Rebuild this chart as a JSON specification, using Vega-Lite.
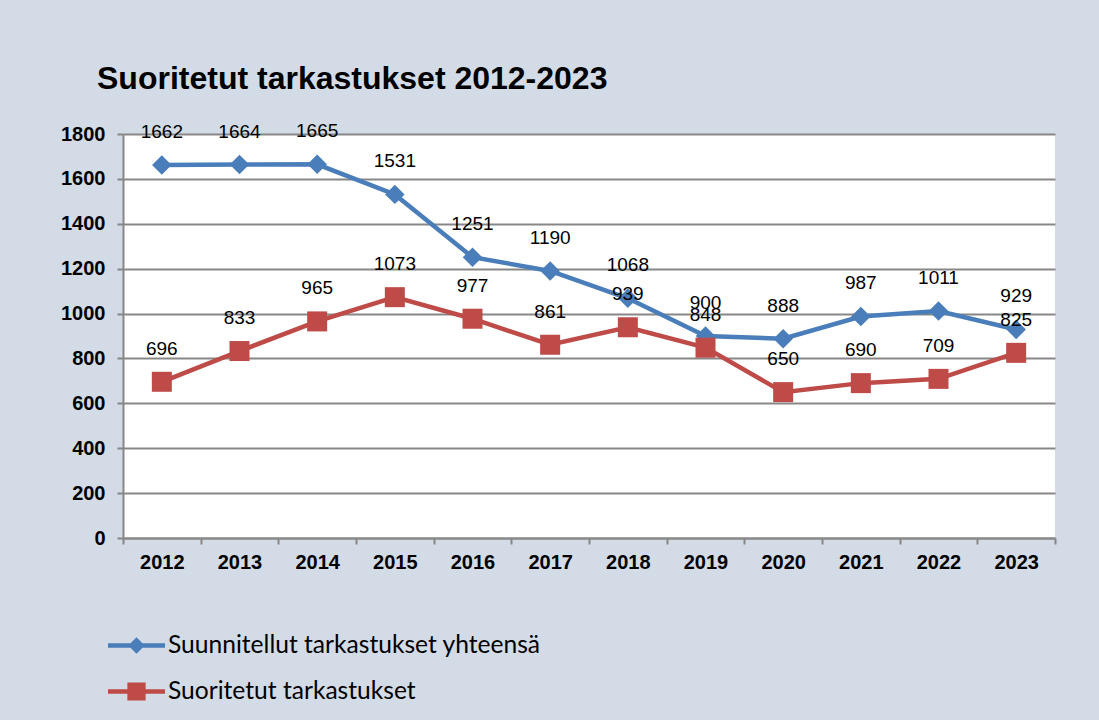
{
  "$schema": "https://vega.github.io/schema/vega-lite/v6.json",
  "autosize": "none",
  "width": 932,
  "height": 404,
  "padding": {"left": 123, "top": 134, "right": 44, "bottom": 182},
  "background": "#d3dbe6",
  "title": {
    "text": "Suoritetut tarkastukset 2012-2023",
    "anchor": "start",
    "frame": "group",
    "dx": -26,
    "offset": 1,
    "baseline": "alphabetic",
    "font": "Liberation Sans",
    "fontSize": 32,
    "fontWeight": "bold",
    "color": "#000000"
  },
  "config": {
    "view": {"fill": "#ffffff", "stroke": null},
    "axis": {
      "labelFont": "Liberation Sans",
      "labelFontSize": 20,
      "labelFontWeight": "bold",
      "labelColor": "#000000",
      "domainColor": "#878787",
      "domainWidth": 2,
      "tickColor": "#878787",
      "tickWidth": 2,
      "tickSize": 6,
      "gridColor": "#878787",
      "gridWidth": 2,
      "title": null
    },
    "legend": {
      "symbolType": "M-1,-0.08H1V0.08H-1Z M0,-0.29L0.29,0L0,0.29L-0.29,0Z"
    }
  },
  "data": {
    "values": [
      {"year": "2012", "series": "Suunnitellut tarkastukset yhteensä", "value": 1662},
      {"year": "2013", "series": "Suunnitellut tarkastukset yhteensä", "value": 1664},
      {"year": "2014", "series": "Suunnitellut tarkastukset yhteensä", "value": 1665},
      {"year": "2015", "series": "Suunnitellut tarkastukset yhteensä", "value": 1531},
      {"year": "2016", "series": "Suunnitellut tarkastukset yhteensä", "value": 1251},
      {"year": "2017", "series": "Suunnitellut tarkastukset yhteensä", "value": 1190},
      {"year": "2018", "series": "Suunnitellut tarkastukset yhteensä", "value": 1068},
      {"year": "2019", "series": "Suunnitellut tarkastukset yhteensä", "value": 900},
      {"year": "2020", "series": "Suunnitellut tarkastukset yhteensä", "value": 888},
      {"year": "2021", "series": "Suunnitellut tarkastukset yhteensä", "value": 987},
      {"year": "2022", "series": "Suunnitellut tarkastukset yhteensä", "value": 1011},
      {"year": "2023", "series": "Suunnitellut tarkastukset yhteensä", "value": 929},
      {"year": "2012", "series": "Suoritetut tarkastukset", "value": 696},
      {"year": "2013", "series": "Suoritetut tarkastukset", "value": 833},
      {"year": "2014", "series": "Suoritetut tarkastukset", "value": 965},
      {"year": "2015", "series": "Suoritetut tarkastukset", "value": 1073},
      {"year": "2016", "series": "Suoritetut tarkastukset", "value": 977},
      {"year": "2017", "series": "Suoritetut tarkastukset", "value": 861},
      {"year": "2018", "series": "Suoritetut tarkastukset", "value": 939},
      {"year": "2019", "series": "Suoritetut tarkastukset", "value": 848},
      {"year": "2020", "series": "Suoritetut tarkastukset", "value": 650},
      {"year": "2021", "series": "Suoritetut tarkastukset", "value": 690},
      {"year": "2022", "series": "Suoritetut tarkastukset", "value": 709},
      {"year": "2023", "series": "Suoritetut tarkastukset", "value": 825}
    ]
  },
  "encoding": {
    "x": {
      "field": "year",
      "type": "ordinal",
      "bandPosition": 0.5,
      "scale": {"type": "band", "paddingInner": 0, "paddingOuter": 0},
      "axis": {"labelAngle": 0, "tickBand": "extent", "labelPadding": 8, "grid": false}
    },
    "y": {
      "field": "value",
      "type": "quantitative",
      "scale": {"domain": [0, 1800], "nice": false, "zero": true},
      "axis": {"values": [0, 200, 400, 600, 800, 1000, 1200, 1400, 1600, 1800], "format": "d", "labelPadding": 12, "grid": true}
    },
    "color": {
      "field": "series",
      "type": "nominal",
      "scale": {
        "domain": ["Suunnitellut tarkastukset yhteensä", "Suoritetut tarkastukset"],
        "range": ["#4a7ebb", "#be4b48"]
      },
      "legend": {
        "orient": "none",
        "legendX": -15,
        "legendY": 483,
        "title": null,
        "padding": 0,
        "symbolSize": 3249,
        "labelFont": "Lato",
        "labelFontSize": 24.6,
        "labelColor": "#000000",
        "labelOffset": 3,
        "labelLimit": 0,
        "rowPadding": 5,
        "encode": {
          "symbols": {
            "update": {
              "shape": {"signal": "datum.value === 'Suunnitellut tarkastukset yhteensä' ? 'M-1,-0.08H1V0.08H-1Z M0,-0.29L0.29,0L0,0.29L-0.29,0Z' : 'M-1,-0.08H1V0.08H-1Z M-0.32,-0.32H0.32V0.32H-0.32Z'"},
              "fill": {"signal": "datum.value === 'Suunnitellut tarkastukset yhteensä' ? '#4a7ebb' : '#be4b48'"},
              "fillOpacity": {"value": 1},
              "strokeWidth": {"value": 0},
              "opacity": {"value": 1}
            }
          }
        }
      }
    }
  },
  "layer": [
    {
      "transform": [{"filter": "datum.series === 'Suunnitellut tarkastukset yhteensä'"}],
      "mark": {"type": "line", "strokeWidth": 4.5}
    },
    {
      "transform": [{"filter": "datum.series === 'Suunnitellut tarkastukset yhteensä'"}],
      "mark": {"type": "point", "filled": true, "opacity": 1, "shape": "diamond", "size": 380}
    },
    {
      "transform": [{"filter": "datum.series === 'Suoritetut tarkastukset'"}],
      "mark": {"type": "line", "strokeWidth": 4.5}
    },
    {
      "transform": [{"filter": "datum.series === 'Suoritetut tarkastukset'"}],
      "mark": {"type": "point", "filled": true, "opacity": 1, "shape": "square", "size": 400}
    },
    {
      "mark": {"type": "text", "dy": -33, "baseline": "middle", "font": "Liberation Sans", "fontSize": 19},
      "encoding": {
        "text": {"field": "value", "type": "quantitative"},
        "color": {"value": "#000000"}
      }
    }
  ]
}
